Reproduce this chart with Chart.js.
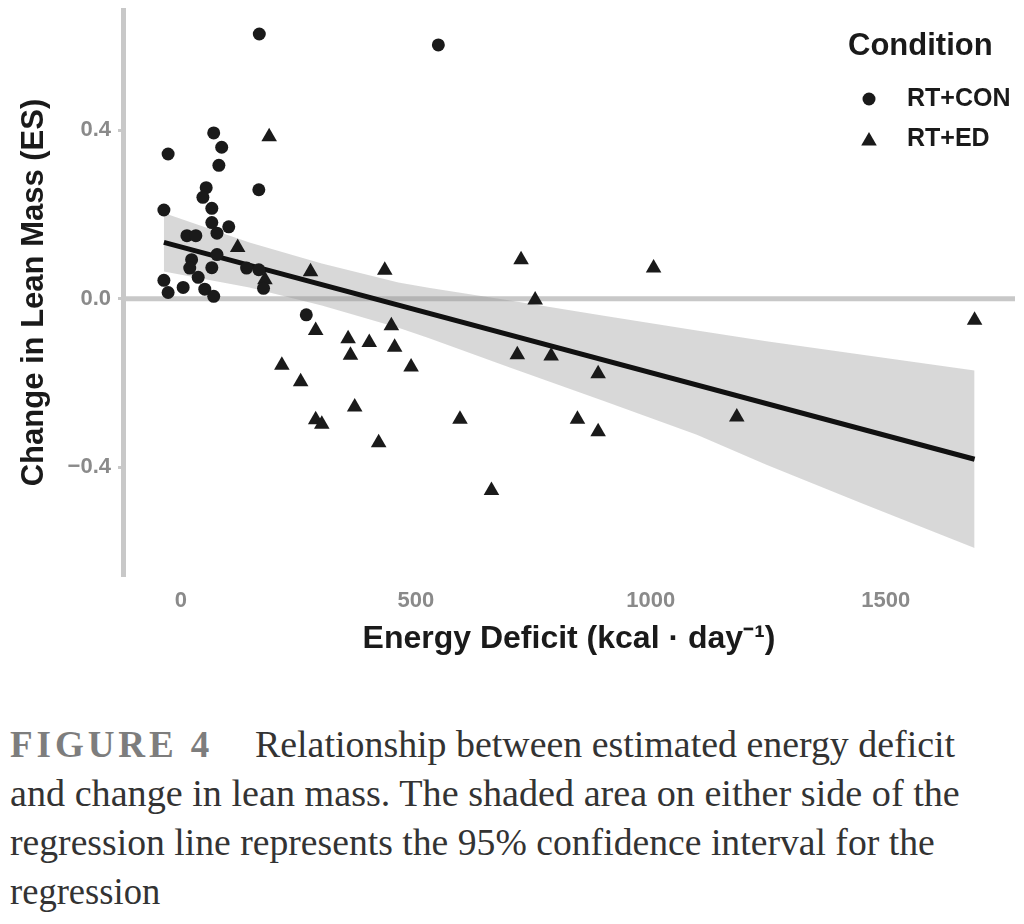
<!DOCTYPE html>
<html>
<head>
<meta charset="utf-8">
<script src="https://cdn.jsdelivr.net/npm/chart.js@4.4.1/dist/chart.umd.min.js"></script>
<style>
html,body{margin:0;padding:0;background:#fff;width:1024px;height:924px;overflow:hidden}
#wrap{position:absolute;left:0;top:0;width:1024px;height:700px}
.cap{position:absolute;left:10px;font-family:'Liberation Serif','Times New Roman',serif;font-size:38px;line-height:49px;color:#333;white-space:nowrap;transform-origin:0 0}
</style>
</head>
<body>
<div id="wrap"><canvas id="c"></canvas></div>
<div class="cap" style="top:720px;color:#7d7d7d;letter-spacing:4px;font-weight:bold" data-w="203">FIGURE 4</div>
<div class="cap" style="top:720px;left:255px" data-w="700">Relationship between estimated energy deficit</div>
<div class="cap" style="top:769px" data-w="950">and change in lean mass. The shaded area on either side of the</div>
<div class="cap" style="top:818px" data-w="925">regression line represents the 95% confidence interval for the</div>
<div class="cap" style="top:867px" data-w="150">regression</div>
<script>
// ---------- data ----------
const seriesNames = ['RT+CON', 'RT+ED'];
const legendTitle = 'Condition';

const conX = [70, 87, -27, 81, 54, 47, 166, -36, 66, 66, 102, 77, 13, 32, 77, 23, 19, 66, 37, -36, -27, 5, 51, 70, 140, 166, 176, 267, 167, 548];
const conY = [0.394, 0.360, 0.344, 0.317, 0.264, 0.241, 0.259, 0.211, 0.215, 0.181, 0.171, 0.156, 0.150, 0.150, 0.105, 0.093, 0.073, 0.074, 0.051, 0.044, 0.015, 0.027, 0.023, 0.006, 0.073, 0.069, 0.025, -0.038, 0.629, 0.603];

const edX = [188, 121, 276, 179, 287, 434, 724, 754, 356, 401, 448, 361, 455, 215, 490, 255, 370, 287, 300, 421, 594, 661, 716, 1006, 788, 888, 844, 888, 1183, 1689];
const edY = [0.385, 0.122, 0.064, 0.045, -0.075, 0.068, 0.093, -0.003, -0.095, -0.104, -0.064, -0.134, -0.115, -0.158, -0.162, -0.197, -0.257, -0.287, -0.298, -0.342, -0.286, -0.455, -0.133, 0.073, -0.136, -0.178, -0.286, -0.316, -0.281, -0.051];

const fitX = [-36, 1689];
const fitY = [0.134, -0.381];

const bandX     = [-36,   146,   300,    463,    527,    700,    900,    1098,   1246,   1450,   1689];
const bandUpper = [0.204, 0.134, 0.084,  0.039,  0.026,  -0.004, -0.040, -0.075, -0.101, -0.133, -0.170];
const bandLower = [0.065, 0.027, -0.016, -0.069, -0.093, -0.163, -0.243, -0.323, -0.394, -0.486, -0.592];

const refLineY = 0;

const xAxisMin = -123, xAxisMax = 1775;
const yAxisMin = -0.656, yAxisMax = 0.686;
const xTickValues = [0, 500, 1000, 1500];
const xTickLabels = ['0', '500', '1000', '1500'];
const yTickValues = [-0.4, 0, 0.4];
const yTickLabels = ['\u22120.4', '0.0', '0.4'];

const xTitle = 'Energy Deficit (kcal \u00B7 day\u207B\u00B9)';
const yTitle = 'Change in Lean Mass (ES)';

// ---------- helpers ----------
const pts = (xs, ys) => xs.map((x, i) => ({x: x, y: ys[i]}));
const FONT = '"Liberation Sans", Arial, Helvetica, sans-serif';
const INK = '#1a1a1a';
const AXIS_GREY = '#c8c8c8';
const TICK_GREY = '#8a8a8a';

const legendPlugin = {
  id: 'condLegend',
  afterDraw(chart) {
    const ctx = chart.ctx;
    ctx.save();
    ctx.fillStyle = INK;
    ctx.textBaseline = 'middle';
    ctx.textAlign = 'left';
    ctx.font = 'bold 31px ' + FONT;
    ctx.fillText(legendTitle, 848, 46);
    ctx.font = 'bold 25px ' + FONT;
    const styles = [{pointStyle: 'circle', radius: 6.5, y: 99}, {pointStyle: 'triangle', radius: 9, y: 141}];
    seriesNames.forEach((name, i) => {
      const s = styles[i];
      ctx.fillStyle = INK;
      Chart.helpers.drawPoint(ctx, {pointStyle: s.pointStyle, radius: s.radius, rotation: 0, borderWidth: 0}, 869, s.y);
      ctx.fillStyle = INK;
      ctx.fillText(name, 907, i === 0 ? 99 : 139);
    });
    ctx.restore();
  }
};

Chart.defaults.font.family = FONT;
Chart.defaults.animation = false;

new Chart(document.getElementById('c'), {
  type: 'scatter',
  data: {
    datasets: [
      {
        label: seriesNames[0],
        data: pts(conX, conY),
        pointStyle: 'circle',
        pointRadius: 6.5,
        pointBackgroundColor: INK,
        pointBorderWidth: 0,
        order: 0
      },
      {
        label: seriesNames[1],
        data: pts(edX, edY),
        pointStyle: 'triangle',
        pointRadius: 9,
        pointBackgroundColor: INK,
        pointBorderWidth: 0,
        order: 0
      },
      {
        type: 'line',
        label: 'fit',
        data: pts(fitX, fitY),
        borderColor: '#111111',
        borderWidth: 5,
        pointRadius: 0,
        fill: false,
        order: 1
      },
      {
        type: 'line',
        label: 'ci-upper',
        data: pts(bandX, bandUpper),
        borderWidth: 0,
        borderColor: 'rgba(0,0,0,0)',
        backgroundColor: 'rgba(150,150,150,0.37)',
        pointRadius: 0,
        fill: '+1',
        order: 2
      },
      {
        type: 'line',
        label: 'ci-lower',
        data: pts(bandX, bandLower),
        borderWidth: 0,
        borderColor: 'rgba(0,0,0,0)',
        pointRadius: 0,
        fill: false,
        order: 2
      },
      {
        type: 'line',
        label: 'zero',
        data: [{x: xAxisMin, y: refLineY}, {x: xAxisMax, y: refLineY}],
        borderColor: AXIS_GREY,
        borderWidth: 5,
        pointRadius: 0,
        fill: false,
        order: 3
      }
    ]
  },
  options: {
    responsive: true,
    maintainAspectRatio: false,
    animation: false,
    layout: {padding: {left: 16, right: 4, top: 10, bottom: 38}},
    plugins: {
      legend: {display: false},
      tooltip: {enabled: false}
    },
    scales: {
      x: {
        type: 'linear',
        min: xAxisMin,
        max: xAxisMax,
        afterBuildTicks: s => { s.ticks = xTickValues.map(v => ({value: v})); },
        afterFit: s => { s.height = 87; s.paddingLeft = 0; s.paddingRight = 0; },
        grid: {display: false, drawTicks: false},
        border: {display: false},
        ticks: {
          padding: 13,
          color: TICK_GREY,
          font: {size: 22, weight: 'bold'},
          maxRotation: 0,
          callback: (v, i) => xTickLabels[i]
        },
        title: {
          display: true,
          text: xTitle,
          color: INK,
          font: {size: 32, weight: 'bold'},
          padding: {top: 0, bottom: 4}
        }
      },
      y: {
        type: 'linear',
        min: yAxisMin,
        max: yAxisMax,
        afterBuildTicks: s => { s.ticks = yTickValues.map(v => ({value: v})); },
        afterFit: s => { s.width = 107; s.paddingTop = 0; s.paddingBottom = 0; },
        grid: {display: true, drawOnChartArea: false, drawTicks: true, tickLength: 5, color: AXIS_GREY, lineWidth: 3},
        border: {display: true, color: AXIS_GREY, width: 5},
        ticks: {
          padding: 7,
          color: TICK_GREY,
          font: {size: 22, weight: 'bold'},
          callback: (v, i) => yTickLabels[i]
        },
        title: {
          display: true,
          text: yTitle,
          color: INK,
          font: {size: 31, weight: 'bold'},
          padding: {top: 0, bottom: 0}
        }
      }
    }
  },
  plugins: [legendPlugin]
});

// fit caption lines to their measured widths in the reference
function fitCaptions() {
  document.querySelectorAll('.cap').forEach(el => {
    const target = parseFloat(el.dataset.w);
    const w = el.scrollWidth;
    if (w > 0) el.style.transform = 'scaleX(' + (target / w) + ')';
  });
}
fitCaptions();
if (document.fonts && document.fonts.ready) document.fonts.ready.then(fitCaptions);
</script>
</body>
</html>
